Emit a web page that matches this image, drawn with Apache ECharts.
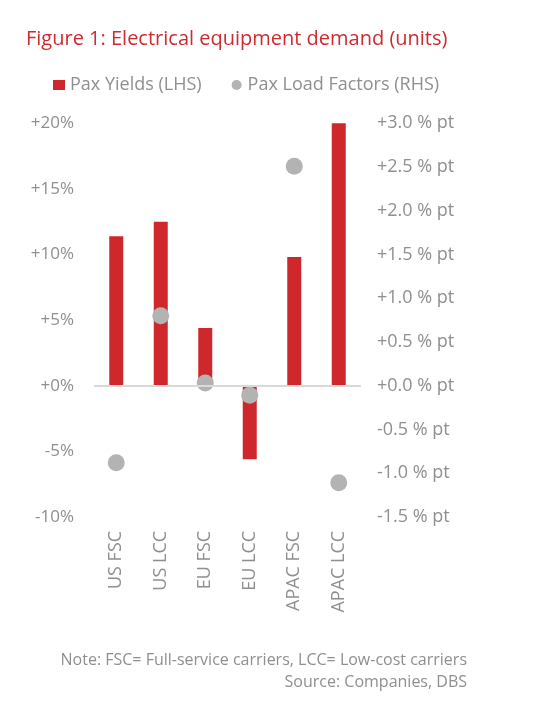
<!DOCTYPE html>
<html>
<head>
<meta charset="utf-8">
<script src="https://cdn.jsdelivr.net/npm/echarts@6/dist/echarts.min.js"></script>
<style>
html,body{margin:0;padding:0;background:#fff;}
#c{width:533px;height:723px;}
</style>
</head>
<body>
<div id="c"></div>
<script>
const categories = ['US FSC', 'US LCC', 'EU FSC', 'EU LCC', 'APAC FSC', 'APAC LCC'];
const paxYields = [11.4, 12.5, 4.4, -5.6, 9.8, 20.0];
const paxLoadFactors = [-0.88, 0.80, 0.03, -0.11, 2.51, -1.11];
const titleText = 'Figure 1: Electrical equipment demand (units)';
const noteText = 'Note: FSC= Full-service carriers, LCC= Low-cost carriers';
const sourceText = 'Source: Companies, DBS';

const FONT = '"Open Sans", "Noto Sans", sans-serif';
const GREY_TEXT = '#8f8f8f';
const RED = '#cf282c';
const DOT = '#b3b3b3';

const chart = echarts.init(document.getElementById('c'));
chart.setOption({
  backgroundColor: '#fff',
  animation: false,
  textStyle: { fontFamily: FONT },
  title: {
    text: titleText,
    left: 21,
    top: 24,
    textStyle: { color: '#cc2b2f', fontSize: 20, fontWeight: 'normal', fontFamily: FONT }
  },
  legend: {
    left: 48,
    top: 71,
    itemWidth: 12,
    itemHeight: 10,
    itemGap: 30,
    textStyle: { color: GREY_TEXT, fontSize: 18, fontFamily: FONT },
    data: [
      { name: 'Pax Yields (LHS)', icon: 'rect' },
      { name: 'Pax Load Factors (RHS)', icon: 'circle' }
    ]
  },
  grid: { left: 94, right: 172, top: 123.3, bottom: 206.1 },
  xAxis: {
    type: 'category',
    data: categories,
    axisLine: { show: false, onZero: false },
    axisTick: { show: false },
    axisLabel: {
      rotate: 90,
      margin: 14,
      color: GREY_TEXT,
      fontSize: 18,
      fontFamily: FONT,
      interval: 0
    }
  },
  yAxis: [
    {
      type: 'value',
      min: -10, max: 20, interval: 5,
      splitLine: { show: false },
      axisLine: { show: false },
      axisTick: { show: false },
      axisLabel: {
        margin: 20,
        color: GREY_TEXT,
        fontSize: 17,
        fontFamily: FONT,
        formatter: v => (v >= 0 ? '+' : '') + v + '%'
      }
    },
    {
      type: 'value',
      min: -1.5, max: 3, interval: 0.5,
      splitLine: { show: false },
      axisLine: { show: false },
      axisTick: { show: false },
      axisLabel: {
        margin: 16,
        color: GREY_TEXT,
        fontSize: 18,
        fontFamily: FONT,
        formatter: v => (v >= 0 ? '+' : '') + v.toFixed(1) + ' % pt'
      }
    }
  ],
  series: [
    {
      name: 'Pax Yields (LHS)',
      type: 'bar',
      yAxisIndex: 0,
      data: paxYields,
      barWidth: 14,
      itemStyle: { color: RED },
      markLine: {
        silent: true,
        symbol: 'none',
        label: { show: false },
        lineStyle: { color: '#d9d9d9', width: 2, type: 'solid' },
        data: [{ yAxis: 0 }]
      },
      z: 2
    },
    {
      name: 'Pax Load Factors (RHS)',
      type: 'scatter',
      yAxisIndex: 1,
      data: paxLoadFactors,
      symbolSize: 17,
      itemStyle: { color: DOT, opacity: 1 },
      z: 3
    }
  ],
  graphic: [
    {
      type: 'text',
      right: 66,
      top: 652,
      style: { text: noteText, fill: GREY_TEXT, font: '16px ' + FONT, textAlign: 'right' }
    },
    {
      type: 'text',
      right: 66,
      top: 674,
      style: { text: sourceText, fill: GREY_TEXT, font: '16px ' + FONT, textAlign: 'right' }
    }
  ]
});
</script>
</body>
</html>
